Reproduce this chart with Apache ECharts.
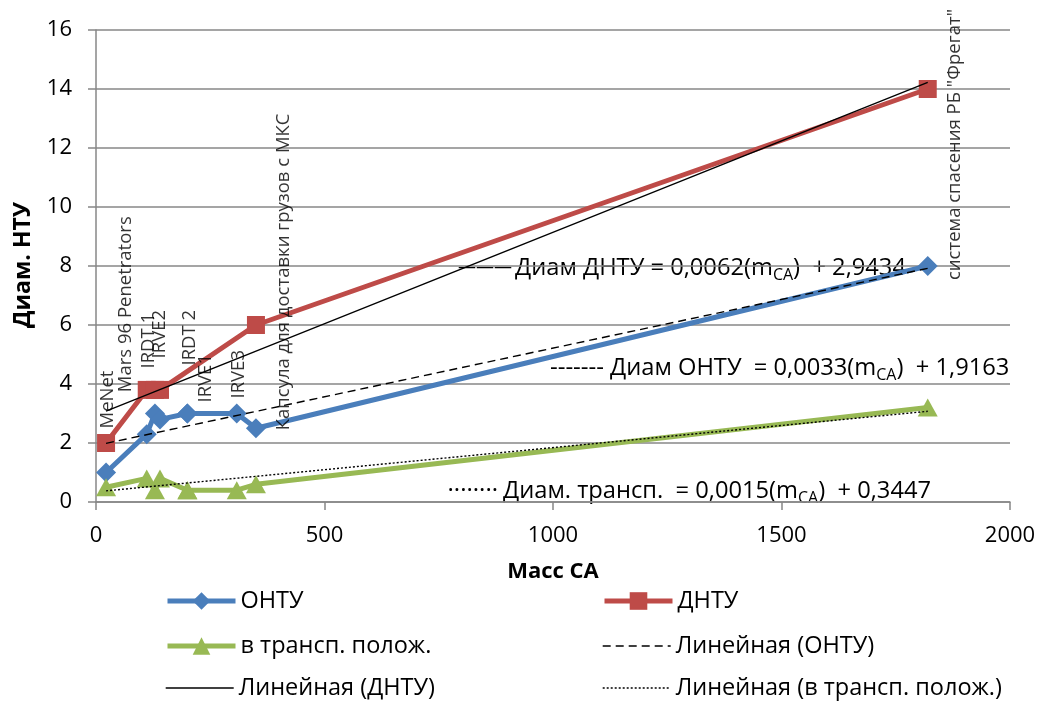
<!DOCTYPE html>
<html><head><meta charset="utf-8">
<script src="https://cdn.jsdelivr.net/npm/echarts@6/dist/echarts.min.js"></script>
<style>html,body{margin:0;padding:0;background:#fff}#c{width:1046px;height:704px}</style>
</head><body><div id="c"></div>
<script>
// ---- data ----
const pointNames = ['MeNet', 'Mars 96 Penetrators', 'IRDT 1', 'IRVE2', 'IRDT 2', 'IRVE1', 'IRVE3',
  'Капсула для доставки грузов с МКС', 'система спасения РБ "Фрегат"'];
const massCA = [22, 111, 129, 140, 200, 200, 308, 350, 1820];
const diamOnty = [1, 2.3, 3, 2.8, 3, 3, 3, 2.5, 8];
const diamDnty = [2, 3.8, 3.8, 3.8, null, null, null, 6, 14];
const diamTransp = [0.5, 0.8, 0.4, 0.8, 0.4, 0.4, 0.4, 0.6, 3.2];
const seriesNames = ['ОНТУ', 'ДНТУ', 'в трансп. полож.'];
const trendNames = ['Линейная (ОНТУ)', 'Линейная (ДНТУ)', 'Линейная (в трансп. полож.)'];
const trendSlope = [0.0033, 0.0062, 0.0015];
const trendIntercept = [1.9163, 2.9434, 0.3447];
const eqPrefix = ['Диам ОНТУ  = ', 'Диам ДНТУ = ', 'Диам. трансп.  = '];
const xTicks = [0, 500, 1000, 1500, 2000];
const yTicks = [0, 2, 4, 6, 8, 10, 12, 14, 16];

// ---- styles / positions (not data) ----
const FONT = "'Open Sans', 'Noto Sans', sans-serif";
const colors = ['#4A7EBB', '#BE4B48', '#98B954'];
// screen-space offsets [dx, dy] of each rotated label start from its point
const labelOffsets = [[2, -44], [-21, -42], [-6, -45], [0, -61], [2, -48], [18, -11], [2, -15], [28, 2], [27, 14]];
const trendDash = [[8, 5], 'solid', [2, 2]];
const eqPos = [ // [leadRightX, textLeftX, centerY]
  [604, 610, 368], [512, 515, 268], [498, 503, 491]];
const eqLead = ['-------', '———', '········'];
const eqLeadSize = [24, 18, 24];

const chart = echarts.init(document.getElementById('c'), null, {renderer: 'canvas'});

const xs = massCA.filter(v => v != null);
const xmin = Math.min(...xs), xmax = Math.max(...xs);
const fmt = v => String(v).replace('.', ',');

const mainSeries = [diamOnty, diamDnty, diamTransp].map((vals, i) => ({
  name: seriesNames[i],
  type: 'line',
  data: massCA.map((m, k) => [m, vals[k]]).filter(p => p[1] != null),
  symbol: ['diamond', 'rect', 'triangle'][i],
  symbolSize: [[20, 20], [18, 18], [20, 18]][i],
  showAllSymbol: true,
  lineStyle: {color: colors[i], width: 5},
  itemStyle: {color: colors[i]},
  z: 2 + i,
  silent: true,
  animation: false
}));

const trendSeries = trendSlope.map((a, i) => ({
  name: trendNames[i],
  type: 'line',
  data: [[xmin, a * xmin + trendIntercept[i]], [xmax, a * xmax + trendIntercept[i]]],
  symbol: 'none',
  lineStyle: {color: '#000', width: 1.4, type: trendDash[i]},
  itemStyle: {color: '#000'},
  z: 6,
  silent: true,
  animation: false
}));

const labelSeries = {
  name: 'labels',
  type: 'scatter',
  data: massCA.map((m, k) => ({
    value: [m, diamOnty[k]],
    // label offset is applied in the rotated frame: convert screen [dx,dy] -> [-dy, dx]
    label: {offset: [-labelOffsets[k][1], labelOffsets[k][0]], formatter: pointNames[k]}
  })),
  symbolSize: 2,
  itemStyle: {color: 'rgba(0,0,0,0)'},
  label: {
    show: true, position: 'inside', rotate: 90, align: 'left', verticalAlign: 'middle',
    color: '#000', fontSize: 18.5, fontFamily: FONT
  },
  z: 10,
  silent: true,
  animation: false
};

const legendSlots = [
  [seriesNames[0], 160, 584, true], [seriesNames[1], 597, 584, true],
  [seriesNames[2], 160, 629, true], [trendNames[0], 597, 629, false],
  [trendNames[1], 160, 671, false], [trendNames[2], 597, 671, false]
];

const graphics = [
  {type: 'text', x: 23, y: 265, rotation: Math.PI / 2,
   style: {text: 'Диам. НТУ', font: 'bold 23px ' + FONT, align: 'center', verticalAlign: 'middle', fill: '#000'}},
  {type: 'text', x: 553, y: 572,
   style: {text: 'Масс СА', font: 'bold 22px ' + FONT, align: 'center', verticalAlign: 'middle', fill: '#000'}}
];
eqPos.forEach((p, i) => {
  graphics.push({type: 'text', x: p[0], y: p[2],
    style: {text: eqLead[i], font: eqLeadSize[i] + 'px ' + FONT, align: 'right', verticalAlign: 'middle', fill: '#000'}});
  graphics.push({type: 'text', x: p[1], y: p[2],
    style: {
      text: '{n|' + eqPrefix[i] + fmt(trendSlope[i]) + '(m}{s|CA}{n|)  + ' + fmt(trendIntercept[i]) + '}',
      align: 'left', verticalAlign: 'middle',
      rich: {
        n: {fontSize: 23.7, fontFamily: FONT, fill: '#000', color: '#000', lineHeight: 30, verticalAlign: 'middle'},
        s: {fontSize: 16, fontFamily: FONT, fill: '#000', color: '#000', lineHeight: 16, verticalAlign: 'bottom'}
      }
    }});
});

chart.setOption({
  animation: false,
  backgroundColor: '#fff',
  grid: {left: 96, right: 36, top: 30, bottom: 202, containLabel: false},
  xAxis: {
    type: 'value', min: xTicks[0], max: xTicks[xTicks.length - 1], interval: xTicks[1] - xTicks[0],
    axisLine: {show: true, onZero: false, lineStyle: {color: '#878787', width: 1.5}},
    axisTick: {show: true, length: 8, lineStyle: {color: '#878787', width: 1.5}},
    axisLabel: {margin: 23, fontSize: 22, fontFamily: FONT, color: '#000', formatter: v => String(v)},
    splitLine: {show: false}
  },
  yAxis: {
    type: 'value', min: yTicks[0], max: yTicks[yTicks.length - 1], interval: yTicks[1] - yTicks[0],
    axisLine: {show: true, lineStyle: {color: '#878787', width: 1.5}},
    axisTick: {show: true, length: 8, lineStyle: {color: '#878787', width: 1.5}},
    axisLabel: {margin: 24, fontSize: 22, fontFamily: FONT, color: '#000', formatter: v => String(v)},
    splitLine: {show: true, lineStyle: {color: '#878787', width: 1.5}}
  },
  legend: legendSlots.map(s => ({
    data: [s[0]], left: s[1], top: s[2], itemWidth: 68, itemHeight: 22, itemGap: 5,
    textStyle: {fontSize: 23.5, fontFamily: FONT, color: '#000', lineHeight: 22},
    lineStyle: s[3] ? {width: 5} : {width: 1.4},
    itemStyle: s[3] ? {} : {opacity: 0},
    selectedMode: false
  })),
  graphic: graphics,
  series: [...mainSeries, ...trendSeries, labelSeries]
});
</script></body></html>
